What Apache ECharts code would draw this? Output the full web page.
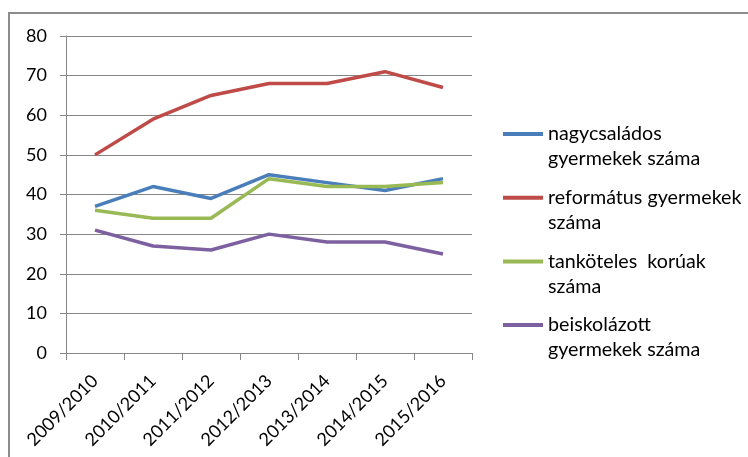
<!DOCTYPE html>
<html>
<head>
<meta charset="utf-8">
<script src="https://cdn.jsdelivr.net/npm/echarts@6/dist/echarts.min.js"></script>
<style>html,body{margin:0;padding:0;background:#fff}#c{width:748px;height:457px}</style>
</head>
<body>
<div id="c"></div>
<script>
const categories = ['2009/2010','2010/2011','2011/2012','2012/2013','2013/2014','2014/2015','2015/2016'];
const seriesNames = ['nagycsaládos\ngyermekek száma','református gyermekek\nszáma','tanköteles  korúak\nszáma','beiskolázott\ngyermekek száma'];
const nagycsaladosValues = [37, 42, 39, 45, 43, 41, 44];
const reformatusValues = [50, 59, 65, 68, 68, 71, 67];
const tankotelesValues = [36, 34, 34, 44, 42, 42, 43];
const beiskolazottValues = [31, 27, 26, 30, 28, 28, 25];
const yTicks = [0, 10, 20, 30, 40, 50, 60, 70, 80];

const colors = ['#4A7EBB', '#BE4B48', '#98B954', '#7D60A0'];
const values = [nagycsaladosValues, reformatusValues, tankotelesValues, beiskolazottValues];
const FONT = 'Lato';

const chart = echarts.init(document.getElementById('c'), null, {renderer: 'canvas'});
chart.setOption({
  animation: false,
  backgroundColor: '#fff',
  textStyle: {fontFamily: FONT},
  graphic: [{
    type: 'rect', silent: true, z: -1,
    shape: {x: 9, y: 13, width: 800, height: 500},
    style: {fill: 'none', stroke: '#8c8c8c', lineWidth: 2}
  }],
  grid: {left: 66, right: 276, top: 36, bottom: 104, containLabel: false},
  legend: {
    orient: 'vertical',
    left: 503,
    top: 96.5,
    padding: 0,
    itemGap: -11.3,
    itemWidth: 40,
    itemHeight: 4,
    icon: 'rect',
    selectedMode: false,
    formatter: function (name) { return '\n' + name; },
    textStyle: {
      fontFamily: FONT, fontSize: 19.7, color: '#000', lineHeight: 25
    },
    data: seriesNames
  },
  xAxis: {
    type: 'category',
    data: categories,
    boundaryGap: true,
    axisLine: {lineStyle: {color: '#868686', width: 1}},
    axisTick: {show: true, length: 7, lineStyle: {color: '#868686'}},
    axisLabel: {rotate: 45, margin: 25, fontSize: 18, color: '#000', fontFamily: FONT, interval: 0}
  },
  yAxis: {
    type: 'value',
    min: yTicks[0], max: yTicks[yTicks.length - 1], interval: 10,
    axisLine: {show: true, lineStyle: {color: '#868686', width: 1}},
    axisTick: {show: true, length: 6, lineStyle: {color: '#868686'}},
    splitLine: {show: true, lineStyle: {color: '#868686', width: 1}},
    axisLabel: {margin: 19, fontSize: 18, color: '#000', fontFamily: FONT}
  },
  series: seriesNames.map((n, i) => ({
    name: n,
    type: 'line',
    data: values[i],
    symbol: 'none',
    smooth: false,
    color: colors[i],
    lineStyle: {width: 3.5, color: colors[i]}
  }))
});
</script>
</body>
</html>
